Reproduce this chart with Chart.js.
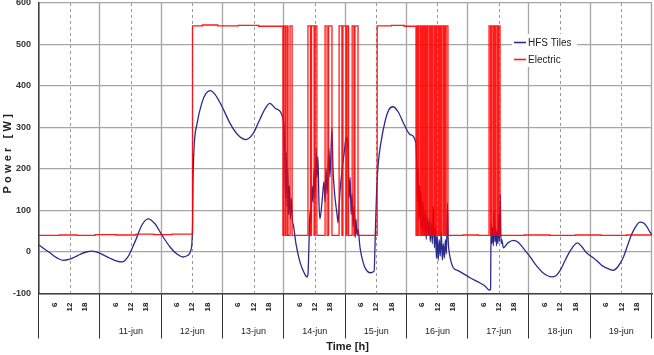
<!DOCTYPE html>
<html><head><meta charset="utf-8">
<script src="https://cdn.jsdelivr.net/npm/chart.js@4"></script>
<style>html,body{margin:0;padding:0;background:#fff;}canvas{display:block;}</style>
</head><body>
<canvas id="c" width="654" height="355"></canvas>
<script>
// ---- data (hours since start of first day, power in W) ----
const dayLabels = ['', '11-jun', '12-jun', '13-jun', '14-jun', '15-jun', '16-jun', '17-jun', '18-jun', '19-jun'];
const hourTickLabels = ['6', '12', '18'];
const seriesNames = ['HFS Tiles', 'Electric'];
const axisTitles = { x: 'Time [h]', y: 'Power [W]' };

const hfsHours = [
  0, 2, 4.3, 7, 9.4, 11.7, 14, 16, 18.5, 20.7, 23, 24.5, 27.8, 30.5, 32.5, 34.8, 37.6, 40.3, 42.7, 45.4, 48.2, 51.3, 54, 56.4, 58.3, 59.5,
  60.1, 60.3, 60.7, 61.9, 63.8, 65.4, 67, 68.9, 71.7, 74.8, 77.9, 81, 83.8, 86.5, 88.5, 90.4, 92.8, 95.9,
  96.2, 96.5, 96.8, 97.1, 97.4, 97.7, 98.0, 98.4, 98.8, 99.2, 99.6, 100.6, 102.2, 103.8, 104.9, 105.3, 105.7, 106.1, 106.5, 106.9, 107.3,
  107.7, 108.1, 108.5, 108.8, 109.2, 109.6, 110.0, 110.8, 111.6, 112.0, 112.4, 112.8, 113.5, 113.9, 114.3, 114.7, 115.1, 115.5, 115.9,
  116.7, 117.1, 117.5, 117.9, 118.7, 119.5, 120.3, 121.0, 121.4, 121.8, 122.2, 122.6, 123.0, 123.4, 123.8, 124.1, 124.5, 124.9, 125.7,
  126.9, 128.0, 129.6, 131.2, 131.7, 132.2, 132.9, 133.9, 135.5, 137, 138.6, 140.6, 142.9, 145.3, 147.6,
  147.9, 148.2, 148.5, 148.8, 149.1, 149.4, 149.7, 150.0, 150.4, 150.8, 151.2, 151.6, 152.0, 152.4, 152.8, 153.2, 153.6, 154.0, 154.4,
  154.8, 155.2, 155.6, 155.9, 156.3, 156.7, 157.1, 157.5, 157.9, 158.3, 158.7, 159.1, 159.5, 159.9, 160.2, 160.6, 161, 162.2, 164.1,
  166.1, 168.8, 171.9, 174.6, 176.4, 176.8, 177.0, 177.3, 177.6, 177.9, 178.2, 178.5, 178.8, 179.1, 179.4, 179.7, 180.0, 180.3, 180.6,
  180.9, 181.2, 181.8, 183.6, 185.7, 187.5, 189.5, 192.3, 194.9, 197.7, 200.7, 202.4, 204, 206, 207.9, 210.8, 212.6, 214.4, 217, 218.9,
  220.8, 222.8, 224.9, 226.7, 228.7, 230.4, 232, 233.7, 235.3, 236.7, 237.9, 239.2, 240
];
const hfsPower = [
  17, 8, -2, -14, -20, -18, -12, -6, 0, 2, -1, -5, -15, -22, -24, -12, 25, 65, 80, 68, 40, 12, -5, -12, -8, 5,
  60, 170, 250, 310, 360, 382, 389, 380, 350, 310, 282, 271, 285, 320, 345, 358, 345, 310,
  250, 130, 240, 110, 200, 90, 160, 80, 130, 75, 65, 20, -25, -50, -60, -55, 20, 100, 70, 160, 120,
  200, 130, 250, 180, 230, 120, 80, 120, 170, 120, 200, 140, 250, 180, 240, 298, 200, 160, 130,
  90, 70, 110, 150, 200, 240, 278, 240, 130, 180, 90, 140, 60, 110, 35, 80, 40, 55, 10,
  -25, -42, -50, -46, 50, 150, 218, 265, 315, 343, 350, 338, 308, 283, 262,
  210, 120, 200, 80, 160, 60, 140, 45, 120, 40, 100, 30, 90, 40, 80, 25, 70, 20, 110,
  10, 60, -15, 40, -20, 30, -10, 50, -20, 20, -15, 30, -5, 118, 30, 0, -15, -38, -45,
  -52, -62, -72, -82, -92, -90, 70, 20, 60, 15, 100, 25, 60, 15, 50, 20, 90, 25, 140,
  20, 30, 10, 22, 28, 24, 10, -12, -34, -52, -60, -57, -45, -20, 2, 22, 12, -2, -14, -24,
  -34, -40, -44, -35, -14, 15, 42, 62, 72, 70, 62, 48, 42
];

// Electric: each entry is the time at which the power switches to the given value
const elecHours = [
  0, 8, 15, 22, 30, 38, 45, 52, 60.1, 64, 70, 78, 86,
  95.5, 95.9, 96.5, 97.1, 97.5, 98.3, 99.1,
  105.3, 106.3, 106.7, 107.7, 108.1, 108.8,
  112.0, 112.8, 113.4, 114.7,
  117.5, 118.6, 119.0, 120.2, 120.6, 121.2,
  122.6, 123.3, 123.7, 124.9,
  132.4, 138, 143, 147.6,
  148.0, 148.4, 148.8, 149.4, 149.8, 150.2, 150.6, 151.1, 151.5, 151.9, 152.3, 152.9, 153.3, 153.7, 154.1, 154.7,
  155.1, 155.5, 155.8, 156.4, 156.8, 157.2, 157.6, 158.2, 158.6, 159.0, 159.4, 160.1,
  166, 172, 176.2, 176.8, 177.2, 177.8, 178.2, 178.6, 178.9, 179.5, 179.9, 180.5,
  190, 200, 210, 220, 230, 240
];
const elecPower = [
  40, 41, 40, 42, 41, 43, 42, 43, 545, 547, 545, 546, 544,
  40, 545, 40, 545, 40, 545, 40,
  545, 40, 545, 40, 545, 40,
  545, 40, 545, 40,
  545, 40, 545, 40, 545, 40,
  545, 40, 545, 40,
  545, 546, 544, 40,
  545, 40, 545, 40, 545, 40, 545, 40, 545, 40, 545, 40, 545, 40, 545, 40,
  545, 40, 545, 40, 545, 40, 545, 40, 545, 40, 545, 40,
  41, 40, 545, 40, 545, 40, 545, 40, 545, 40, 545, 40,
  41, 40, 41, 40, 41, 40
];

// ---- chart ----
const FONT = '"Liberation Sans", Arial, sans-serif';
const HOURS_PER_DAY = 24;
const hfsData = hfsHours.map((h, i) => ({ x: h, y: hfsPower[i] }));
const elecData = elecHours.map((h, i) => ({ x: h, y: elecPower[i] }));

const decorPlugin = {
  id: 'decor',
  beforeDatasetsDraw(chart) {
    const { ctx, chartArea: a, scales: { x } } = chart;
    ctx.save();
    ctx.beginPath(); ctx.rect(a.left, a.top - 1, a.width + 2, a.height + 1); ctx.clip();
    for (let d = 0; d <= dayLabels.length; d++) {
      if (d > 0) {
        const px = Math.round(x.getPixelForValue(d * HOURS_PER_DAY)) - 0.5;
        ctx.strokeStyle = '#a6a6a6'; ctx.lineWidth = 1.3; ctx.setLineDash([]);
        ctx.beginPath(); ctx.moveTo(px, a.top); ctx.lineTo(px, a.bottom); ctx.stroke();
      }
      if (d < dayLabels.length) {
        const pm = Math.round(x.getPixelForValue(d * HOURS_PER_DAY + 12)) + 0.5;
        ctx.strokeStyle = '#9a9a9a'; ctx.lineWidth = 1; ctx.setLineDash([3, 3]);
        ctx.beginPath(); ctx.moveTo(pm, a.top); ctx.lineTo(pm, a.bottom); ctx.stroke();
      }
    }
    ctx.restore();
  },
  afterDraw(chart) {
    const { ctx, chartArea: a, scales: { x } } = chart;
    ctx.save();
    ctx.strokeStyle = '#333'; ctx.lineWidth = 1; ctx.setLineDash([]);
    for (let d = 0; d <= dayLabels.length; d++) {
      const px = Math.round(x.getPixelForValue(d * HOURS_PER_DAY)) - 0.5;
      ctx.beginPath(); ctx.moveTo(px, a.bottom); ctx.lineTo(px, a.bottom + 45); ctx.stroke();
    }
    ctx.fillStyle = '#222'; ctx.font = '9px ' + FONT; ctx.textAlign = 'center'; ctx.textBaseline = 'middle';
    dayLabels.forEach((lab, d) => {
      ctx.fillText(lab, x.getPixelForValue(d * HOURS_PER_DAY + 12), a.bottom + 38);
    });
    ctx.font = 'bold 11px ' + FONT;
    ctx.fillText(axisTitles.x, (a.left + a.right) / 2 + 2, 347);
    ctx.save();
    ctx.translate(8, (a.top + a.bottom) / 2 + 4);
    ctx.rotate(-Math.PI / 2);
    ctx.letterSpacing = '3.2px';
    ctx.fillText(axisTitles.y, 0, 0);
    ctx.restore();
    // legend
    ctx.fillStyle = '#fff';
    ctx.fillRect(512, 34, 65, 33);
    const colors = [chart.data.datasets[0].borderColor, chart.data.datasets[1].borderColor];
    const ys = [42, 59];
    ctx.font = '10px ' + FONT; ctx.textAlign = 'left';
    seriesNames.forEach((n, i) => {
      ctx.strokeStyle = colors[i]; ctx.lineWidth = 1.6;
      ctx.beginPath(); ctx.moveTo(514, ys[i] + 0.5); ctx.lineTo(526, ys[i] + 0.5); ctx.stroke();
      ctx.fillStyle = '#222';
      ctx.fillText(n, 528, ys[i] + 1);
    });
    ctx.restore();
  }
};

new Chart(document.getElementById('c'), {
  type: 'line',
  data: {
    datasets: [
      { label: seriesNames[0], data: hfsData, borderColor: '#2b2b8c', borderWidth: 1.3,
        pointRadius: 0, cubicInterpolationMode: 'monotone', order: 1 },
      { label: seriesNames[1], data: elecData, borderColor: 'rgba(255,0,0,0.9)', borderWidth: 1.3,
        pointRadius: 0, stepped: true, order: 0 }
    ]
  },
  options: {
    responsive: false,
    animation: false,
    devicePixelRatio: 1,
    layout: { padding: { left: 0, right: 2, top: 3, bottom: 0 } },
    plugins: { legend: { display: false }, tooltip: { enabled: false } },
    scales: {
      x: {
        type: 'linear', min: 0, max: dayLabels.length * HOURS_PER_DAY,
        afterFit: s => { s.height = 61.5; s.paddingLeft = 0; s.paddingRight = 0; },
        afterBuildTicks: s => {
          const t = [];
          for (let d = 0; d <= dayLabels.length; d++) {
            t.push({ value: d * HOURS_PER_DAY });
            if (d < dayLabels.length) hourTickLabels.forEach(l => t.push({ value: d * HOURS_PER_DAY + Number(l) }));
          }
          s.ticks = t;
        },
        ticks: {
          autoSkip: false, minRotation: 90, maxRotation: 90, padding: 9,
          color: '#222', font: { family: FONT, size: 8, weight: 'bold' },
          callback: v => { const r = v % HOURS_PER_DAY; return r === 0 ? '' : String(r); }
        },
        grid: { display: false, drawTicks: false },
        border: { display: true, color: '#404040', width: 1.5 }
      },
      y: {
        min: -100, max: 600,
        afterFit: s => { s.width = 39; s.paddingTop = 0; s.paddingBottom = 0; },
        ticks: { stepSize: 100, padding: 8, color: '#333',
          font: { family: FONT, size: 9, weight: 'bold' } },
        grid: { color: '#a6a6a6', lineWidth: 1.3, drawTicks: false },
        border: { display: true, color: '#404040', width: 1.6 }
      }
    }
  },
  plugins: [decorPlugin]
});
</script>
</body></html>
